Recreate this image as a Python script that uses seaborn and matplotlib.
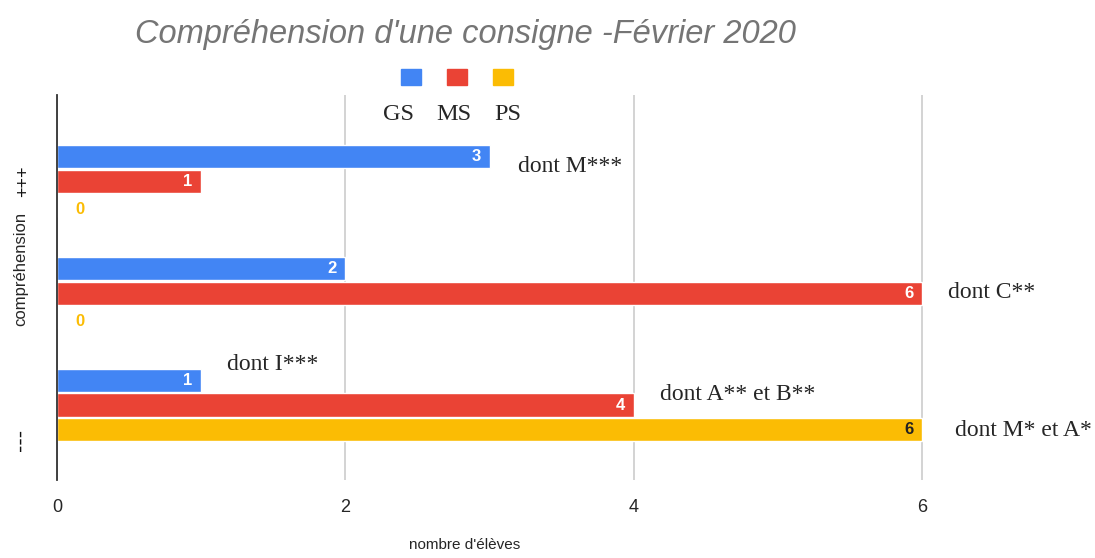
import matplotlib
matplotlib.use('Agg')
import matplotlib.pyplot as plt
import matplotlib.patches as mpatches
import matplotlib.transforms as mtransforms
import seaborn as sns
import pandas as pd

# data
categories = ['+++', '', '---']
groups = ['GS', 'MS', 'PS']
gs_values = [3, 2, 1]
ms_values = [1, 6, 4]
ps_values = [0, 0, 6]
colors = ['#4285F4', '#EA4335', '#FBBC04']

notes = ['dont M***', 'dont C**', 'dont I***', 'dont A** et B**', 'dont M* et A*']
note_pos = [(518, 167), (948, 293), (227, 364), (660, 394), (955, 430)]

rows = []
for i, cat in enumerate(categories):
    rows.append({'cat': f'c{i}', 'grade': 'GS', 'val': gs_values[i]})
    rows.append({'cat': f'c{i}', 'grade': 'MS', 'val': ms_values[i]})
    rows.append({'cat': f'c{i}', 'grade': 'PS', 'val': ps_values[i]})
df = pd.DataFrame(rows)

sns.set_style('white')
plt.rcParams['font.family'] = ['Liberation Sans', 'DejaVu Sans']

W, H = 1095, 558
fig = plt.figure(figsize=(10.95, 5.58), dpi=100)
ax = fig.add_axes([57 / W, 1 - 480 / H, 7 * 144.2 / W, (480 - 95) / H])

sns.barplot(data=df, y='cat', x='val', hue='grade', orient='h',
            palette=colors, width=0.66, gap=0.06, ax=ax, legend=False,
            saturation=1)

ax.set_xlim(0, 7)
ax.set_ylim(2.67, -0.77)
ax.set_xticks([0, 2, 4, 6])
ax.set_xticklabels(['0', '2', '4', '6'], fontsize=13)
ax.xaxis.grid(True, color='#cccccc', linewidth=1.2)
ax.set_axisbelow(True)
for s in ['top', 'right', 'bottom']:
    ax.spines[s].set_visible(False)
ax.spines['left'].set_color('#333333')
ax.spines['left'].set_linewidth(1.3)
ax.tick_params(axis='x', length=0, pad=14)
ax.tick_params(axis='y', length=0, pad=18)
ax.set_yticks(range(len(categories)))
ax.set_yticklabels(categories, rotation=90, va='center', fontsize=13,
                   color='#111111')
# the bottom label sits a bit lower in the original
lab = ax.get_yticklabels()[2]
lab.set_fontsize(16)
lab.set_transform(lab.get_transform() +
                  mtransforms.ScaledTranslation(0, -35 / 100, fig.dpi_scale_trans))

ax.set_xlabel("nombre d'élèves", fontsize=11)
ax.xaxis.set_label_coords((465 - 57) / (7 * 144.2), -(538 - 480) / (480 - 95))
ax.set_ylabel('compréhension', fontsize=12)
ax.yaxis.set_label_coords(-(57 - 28) / (7 * 144.2), (480 - 269) / (480 - 95))

# value labels on bars
for k, cont in enumerate(ax.containers):
    for p in cont.patches:
        v = p.get_width()
        yc = p.get_y() + p.get_height() / 2
        if v == 0:
            ax.text(0.16, yc + 0.03, '0', color=colors[2], fontsize=12,
                    ha='center', va='center', fontweight='bold')
        else:
            tc = '#222222' if k == 2 else 'white'
            ax.text(v - 0.06, yc, str(int(v)), color=tc, fontsize=12,
                    ha='right', va='center', fontweight='bold')

# legend squares
handles = [mpatches.Patch(color=c) for c in colors]
fig.legend(handles, ['', '', ''], ncol=3, frameon=False,
           loc='center', bbox_to_anchor=(457 / W, 1 - 77 / H),
           handlelength=1.45, handleheight=1.45, columnspacing=1.85,
           handletextpad=0)
for g, x in zip(groups, [398, 454, 508]):
    fig.text(x / W, 1 - 115 / H, g, fontsize=17.5, family='Liberation Serif',
             ha='center', va='center')

for t, (x, y) in zip(notes, note_pos):
    fig.text(x / W, 1 - y / H, t, fontsize=17, family='Liberation Serif',
             ha='left', va='center')

fig.text(465 / W, 1 - 35 / H, "Compréhension d'une consigne -Février 2020",
         fontsize=23.5, style='italic', color='#757575', ha='center', va='center')

fig.savefig('out.png', dpi=100)
